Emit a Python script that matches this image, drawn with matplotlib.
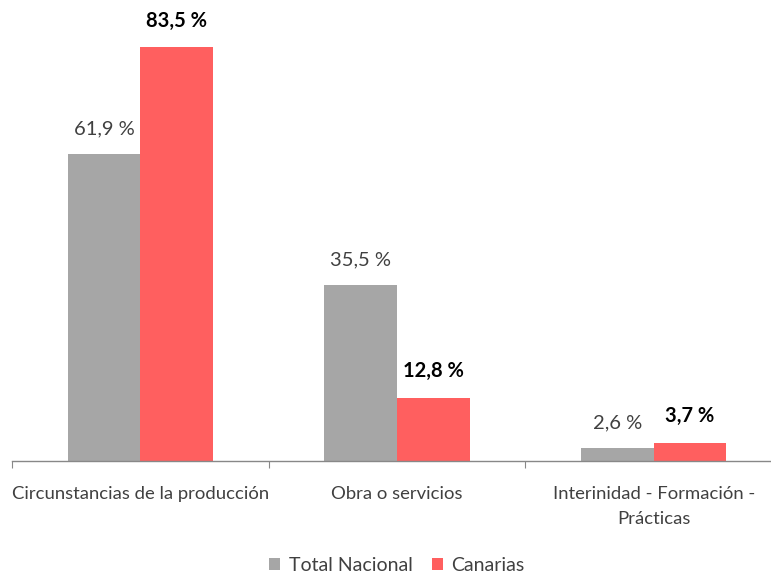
import matplotlib.pyplot as plt
import numpy as np

plt.rcParams.update({
    "font.family": ["Lato", "DejaVu Sans"],
    "font.size": 13,
    "figure.dpi": 100,
})

categories = ["Circunstancias de la producción", "Obra o servicios",
              "Interinidad - Formación -\nPrácticas"]
total_nacional = [61.9, 35.5, 2.6]
canarias = [83.5, 12.8, 3.7]

GRAY = "#A6A6A6"
RED = "#FF5F5F"
TEXT = "#404040"

fig = plt.figure(figsize=(7.71, 5.74))
# axis runs slightly past the right edge, as in the source picture
ax = fig.add_axes([12 / 771, (574 - 461) / 574, (782 - 12) / 771, (461 - 10) / 574])

x = np.arange(len(categories))
w = 0.283
ax.bar(x - w / 2, total_nacional, w, color=GRAY, label="Total Nacional")
ax.bar(x + w / 2, canarias, w, color=RED, label="Canarias")

for xi, v in zip(x, total_nacional):
    ax.text(xi - w / 2, v + 3.3, f"{v:.1f} %".replace(".", ","), ha="center", va="bottom",
            color=TEXT, fontsize=14.5)
for xi, v in zip(x, canarias):
    ax.text(xi + w / 2, v + 3.3, f"{v:.1f} %".replace(".", ","), ha="center", va="bottom",
            color="black", fontsize=14.5, fontweight="bold")

ax.set_xlim(-0.5, 2.5)
ax.set_ylim(0, 91)
ax.set_yticks([])
for s in ["top", "right", "left"]:
    ax.spines[s].set_visible(False)
ax.spines["bottom"].set_color("#888888")
ax.spines["bottom"].set_linewidth(1.0)

ax.set_xticks([-0.5, 0.5, 1.5, 2.5])
ax.set_xticklabels([])
ax.tick_params(axis="x", length=5, color="#888888", direction="out")
ax.set_xticks(x, minor=True)
ax.set_xticklabels(categories, minor=True, color=TEXT, fontsize=13.3, linespacing=1.7)
ax.tick_params(axis="x", which="minor", length=0, pad=18)
for lbl in ax.get_xticklabels(minor=True):
    lbl.set_verticalalignment("top")

ax.legend(loc="upper center", bbox_to_anchor=(0.5, -0.187), ncol=2, frameon=False,
          handlelength=0.55, handleheight=0.55, handletextpad=0.45, columnspacing=1.0,
          labelcolor=TEXT, fontsize=14, borderaxespad=0.2)

fig.savefig("out.png", dpi=100)
